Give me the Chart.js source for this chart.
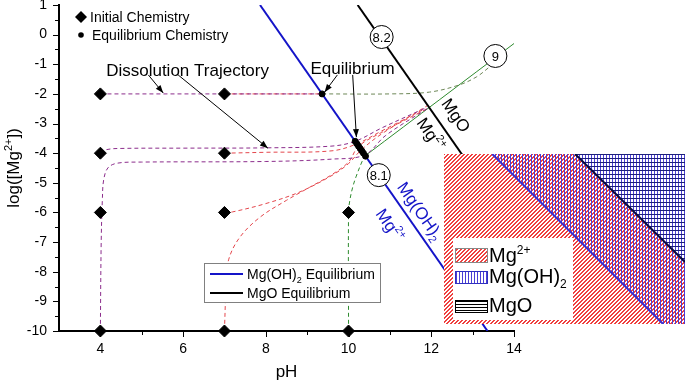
<!DOCTYPE html>
<html>
<head>
<meta charset="utf-8">
<script src="https://cdn.jsdelivr.net/npm/chart.js@4.4.1/dist/chart.umd.min.js"></script>
<style>
    html, body { margin: 0; padding: 0; background: #fff; }
    #wrap { position: relative; width: 685px; height: 380px; overflow: hidden; }
    #main { position: absolute; left: 0; top: 0; }
    #inset { position: absolute; left: 444px; top: 154px; background: #fff; }
</style>
</head>
<body>
<div id="wrap">
    <canvas id="main" width="685" height="380"></canvas>
    <canvas id="inset" width="241" height="170"></canvas>
</div>
<script>
const FONT = "'Liberation Sans', Arial, sans-serif";

// axes
const phTicks = [4, 6, 8, 10, 12, 14];
const phMinor = [5, 7, 9, 11, 13];
const logTicks = [1, 0, -1, -2, -3, -4, -5, -6, -7, -8, -9, -10];
const logMinor = [0.5, -0.5, -1.5, -2.5, -3.5, -4.5, -5.5, -6.5, -7.5, -8.5, -9.5];

// initial chemistry (diamonds)
const initialPH = [4, 7, 4, 7, 4, 7, 10, 4, 7, 10];
const initialLog = [-2, -2, -4, -4, -6, -6, -6, -10, -10, -10];

// equilibrium chemistry (dots on the Mg(OH)2 line)
const equilPH = [9.36, 10.16, 10.2, 10.24, 10.28, 10.32, 10.36, 10.41];
const equilLog = [-2, -3.6, -3.68, -3.76, -3.84, -3.92, -4.0, -4.1];

// equilibrium lines
const mgoh2PH = [7.86, 13.36];
const mgoh2Log = [1, -10];
const mgoPH = [10.22, 14];
const mgoLog = [1, -6.56];

// circled markers
const markPH = [10.8, 10.73, 13.55];
const markLog = [-0.08, -4.74, -0.72];
const markText = ['8.2', '8.1', '9'];

// dissolution trajectories
const t4m2PH = [4, 9.36];
const t4m2Log = [-2, -2];
const t7m2PH = [7, 9.36];
const t7m2Log = [-2, -2];
const tOverPH = [9.36, 11.0, 11.95, 12.67, 13.1, 13.4];
const tOverLog = [-2, -2.0, -1.94, -1.7, -1.42, -1.1];
const t4m4PH = [4, 4.15, 4.5, 6, 8, 9.6, 10.16, 10.8, 11.9];
const t4m4Log = [-4, -3.88, -3.84, -3.83, -3.82, -3.76, -3.6, -3.15, -2.45];
const t7m4PH = [7, 8, 9.6, 10.21, 10.8, 11.85];
const t7m4Log = [-4, -3.97, -3.92, -3.68, -3.25, -2.5];
const t4m10PH = [4, 4.02, 4.05, 4.08, 4.18, 4.4, 5, 8, 9.6, 10.39, 10.9, 11.9];
const t4m10Log = [-10, -7, -5.5, -4.9, -4.5, -4.34, -4.3, -4.28, -4.2, -4.06, -3.4, -2.5];
const t7m6PH = [7, 7.2, 8.0, 8.8, 9.6, 10.0, 10.3, 10.8, 11.9];
const t7m6Log = [-6, -5.98, -5.7, -5.32, -4.75, -4.35, -3.9, -3.35, -2.4];
const t7m10PH = [7, 7.04, 7.1, 7.37, 7.86, 8.5, 9.06, 9.6, 10.0, 10.24, 10.8, 11.9];
const t7m10Log = [-10, -8.5, -7.6, -6.84, -6.16, -5.59, -5.15, -4.72, -4.3, -3.77, -3.3, -2.5];
const t10m10PH = [10, 10, 10.03, 10.1, 10.18, 10.34, 10.41];
const t10m10Log = [-10, -6, -5.6, -5.15, -4.8, -4.24, -4.08];
const tGreenPH = [10.41, 14];
const tGreenLog = [-4.08, -0.3];

// inset phase diagram boundaries (fractions of the inset box)
const insetMg2X = [0, 0.544, 1];
const insetMg2Y = [1, 1, 0.365];
const insetOHX = [0.2, 0.909, 1];
const insetOHY = [1, 0, 0];
const insetMgOX = [0.544, 1];
const insetMgOY = [1, 0.365];

const pts = (xs, ys) => xs.map((v, i) => ({ x: v, y: ys[i] }));
const PURPLE = '#8b2c8b', RED = '#e4464c', GREEN = '#2e8b2e', OLIVE = '#6d8757';
const BLUE = '#1414c8';

const traj = (xs, ys, color, dash = [4, 3]) => ({
    data: pts(xs, ys), showLine: true, borderColor: color, borderWidth: 1,
    borderDash: dash, pointRadius: 0, tension: 0.35, fill: false,
});

// text with super/subscripts
function rich(ctx, x, y, parts, size) {
    let cx = x;
    parts.forEach((p) => {
        const s = p.sup || p.sub ? Math.round(size * 0.62) : size;
        ctx.font = `${s}px ${FONT}`;
        const dy = p.sup ? -size * 0.42 : p.sub ? size * 0.25 : 0;
        ctx.fillText(p.t, cx, y + dy);
        cx += ctx.measureText(p.t).width;
    });
    return cx - x;
}
function richWidth(ctx, parts, size) {
    let w = 0;
    parts.forEach((p) => {
        const s = p.sup || p.sub ? Math.round(size * 0.62) : size;
        ctx.font = `${s}px ${FONT}`;
        w += ctx.measureText(p.t).width;
    });
    return w;
}
function arrow(ctx, x1, y1, x2, y2) {
    ctx.beginPath(); ctx.moveTo(x1, y1); ctx.lineTo(x2, y2); ctx.stroke();
    const a = Math.atan2(y2 - y1, x2 - x1), L = 8, W = 3;
    ctx.beginPath();
    ctx.moveTo(x2, y2);
    ctx.lineTo(x2 - L * Math.cos(a) + W * Math.sin(a), y2 - L * Math.sin(a) - W * Math.cos(a));
    ctx.lineTo(x2 - L * Math.cos(a) - W * Math.sin(a), y2 - L * Math.sin(a) + W * Math.cos(a));
    ctx.closePath(); ctx.fill();
}

const tickMarks = {
    id: 'tickMarks',
    beforeDatasetsDraw(chart) {
        const { ctx, chartArea: a, scales: { x, y } } = chart;
        ctx.save();
        ctx.strokeStyle = '#000'; ctx.lineWidth = 1;
        ctx.beginPath();
        phTicks.forEach((v) => { const X = Math.round(x.getPixelForValue(v)) + 0.5; ctx.moveTo(X, a.bottom); ctx.lineTo(X, a.bottom + 6); });
        phMinor.forEach((v) => { const X = Math.round(x.getPixelForValue(v)) + 0.5; ctx.moveTo(X, a.bottom); ctx.lineTo(X, a.bottom + 4); });
        logTicks.forEach((v) => { const Y = Math.round(y.getPixelForValue(v)) + 0.5; ctx.moveTo(a.left, Y); ctx.lineTo(a.left - 6, Y); });
        logMinor.forEach((v) => { const Y = Math.round(y.getPixelForValue(v)) + 0.5; ctx.moveTo(a.left, Y); ctx.lineTo(a.left - 4, Y); });
        ctx.stroke();
        ctx.restore();
    },
};

const decor = {
    id: 'decor',
    afterDatasetsDraw(chart) {
        const { ctx, chartArea: a, scales: { x, y } } = chart;
        const X = (v) => x.getPixelForValue(v), Y = (v) => y.getPixelForValue(v);
        ctx.save();
        ctx.fillStyle = '#000'; ctx.strokeStyle = '#000';
        ctx.textBaseline = 'alphabetic'; ctx.textAlign = 'left';

        // axis titles
        ctx.font = `17px ${FONT}`;
        ctx.textAlign = 'center';
        ctx.fillText('pH', (a.left + a.right) / 2, 377);
        ctx.textAlign = 'left';
        const yt = [{ t: 'log([Mg' }, { t: '2+', sup: true }, { t: '])' }];
        ctx.save();
        ctx.translate(19, (a.top + a.bottom) / 2);
        ctx.rotate(-Math.PI / 2);
        rich(ctx, -richWidth(ctx, yt, 17) / 2, 0, yt, 17);
        ctx.restore();

        // top-left legend
        ctx.beginPath();
        const dx = a.left + 22, dy = a.top + 12;
        ctx.moveTo(dx - 6, dy); ctx.lineTo(dx, dy - 6); ctx.lineTo(dx + 6, dy); ctx.lineTo(dx, dy + 6); ctx.closePath(); ctx.fill();
        ctx.beginPath(); ctx.arc(dx, a.top + 30, 2.8, 0, Math.PI * 2); ctx.fill();
        ctx.font = `14px ${FONT}`;
        ctx.fillText('Initial Chemistry', a.left + 31, dy + 5);
        ctx.fillText('Equilibrium Chemistry', a.left + 33, a.top + 35);

        // annotations
        ctx.font = `17px ${FONT}`;
        ctx.fillText('Dissolution Trajectory', X(4.14), Y(-1.23) + 5);
        ctx.fillText('Equilibrium', X(9.08), Y(-1.16) + 5);
        ctx.lineWidth = 1;
        arrow(ctx, X(5.16), Y(-1.36), X(5.52), Y(-1.97));
        arrow(ctx, X(5.88), Y(-1.36), X(8.05), Y(-3.83));
        arrow(ctx, X(9.73), Y(-1.36), X(9.42), Y(-1.94));
        arrow(ctx, X(10.1), Y(-1.36), X(10.19), Y(-3.46));

        // circled marker labels
        ctx.font = `13px ${FONT}`;
        ctx.textAlign = 'center'; ctx.textBaseline = 'middle';
        markText.forEach((t, i) => ctx.fillText(t, X(markPH[i]), Y(markLog[i]) + 1));
        ctx.textAlign = 'left'; ctx.textBaseline = 'alphabetic';

        // labels along the equilibrium lines
        const ang = Math.atan2(Y(mgoh2Log[1]) - Y(mgoh2Log[0]), X(mgoh2PH[1]) - X(mgoh2PH[0]));
        const rot = (ph, lg, parts, color) => {
            ctx.save();
            ctx.fillStyle = color;
            ctx.translate(X(ph), Y(lg));
            ctx.rotate(ang);
            rich(ctx, -richWidth(ctx, parts, 17) / 2, 6, parts, 17);
            ctx.restore();
        };
        rot(12.6, -2.72, [{ t: 'MgO' }], '#000');
        rot(12.0, -3.36, [{ t: 'Mg' }, { t: '2+', sup: true }], '#000');
        rot(11.74, -5.95, [{ t: 'Mg(OH)' }, { t: '2', sub: true }], BLUE);
        rot(11.01, -6.43, [{ t: 'Mg' }, { t: '2+', sup: true }], BLUE);

        // boxed legend
        const bx = a.left + 145, by = a.top + 258;
        ctx.fillStyle = '#fff'; ctx.fillRect(bx, by, 176, 39);
        ctx.strokeStyle = '#808080'; ctx.strokeRect(bx + 0.5, by + 0.5, 176, 39);
        ctx.lineWidth = 2;
        ctx.strokeStyle = BLUE;
        ctx.beginPath(); ctx.moveTo(bx + 6, by + 11); ctx.lineTo(bx + 39, by + 11); ctx.stroke();
        ctx.strokeStyle = '#000';
        ctx.beginPath(); ctx.moveTo(bx + 6, by + 30); ctx.lineTo(bx + 39, by + 30); ctx.stroke();
        ctx.fillStyle = '#000';
        rich(ctx, bx + 43, by + 16, [{ t: 'Mg(OH)' }, { t: '2', sub: true }, { t: ' Equilibrium' }], 14);
        rich(ctx, bx + 43, by + 35, [{ t: 'MgO Equilibrium' }], 14);
        ctx.restore();
    },
};

new Chart(document.getElementById('main'), {
    type: 'scatter',
    data: {
        datasets: [
            { data: pts(initialPH, initialLog), pointStyle: 'rectRot', pointRadius: 6, pointBorderWidth: 1,
              backgroundColor: '#000', borderColor: '#000', clip: false },
            { data: pts(markPH, markLog), pointRadius: 11.5, pointBorderWidth: 1,
              backgroundColor: '#fff', borderColor: '#000', clip: false },
            { data: pts(equilPH, equilLog), pointRadius: 3, backgroundColor: '#000', borderColor: '#000' },
            { data: pts(mgoh2PH, mgoh2Log), showLine: true, borderColor: BLUE, borderWidth: 2, pointRadius: 0 },
            { data: pts(mgoPH, mgoLog), showLine: true, borderColor: '#000', borderWidth: 2, pointRadius: 0 },
            traj(t4m2PH, t4m2Log, PURPLE),
            traj(t7m2PH, t7m2Log, RED),
            traj(tOverPH, tOverLog, OLIVE),
            traj(t4m4PH, t4m4Log, PURPLE),
            traj(t7m4PH, t7m4Log, RED),
            traj(t4m10PH, t4m10Log, PURPLE),
            traj(t7m6PH, t7m6Log, RED),
            traj(t7m10PH, t7m10Log, RED),
            traj(t10m10PH, t10m10Log, GREEN),
            traj(tGreenPH, tGreenLog, GREEN, []),
        ],
    },
    options: {
        responsive: false,
        animation: false,
        devicePixelRatio: 1,
        layout: { autoPadding: false, padding: { left: 0, right: 171, top: 5, bottom: 0 } },
        plugins: { legend: { display: false }, tooltip: { enabled: false } },
        scales: {
            x: {
                type: 'linear', min: 3, max: 14,
                afterBuildTicks: (s) => { s.ticks = phTicks.map((v) => ({ value: v })); },
                afterFit: (s) => { s.height = 49; s.paddingLeft = 0; s.paddingRight = 0; },
                grid: { display: false, drawTicks: false },
                border: { display: true, color: '#000', width: 2 },
                ticks: { color: '#000', font: { size: 14, family: FONT }, padding: 10, maxRotation: 0, autoSkip: false },
            },
            y: {
                type: 'linear', min: -10, max: 1,
                afterBuildTicks: (s) => { s.ticks = logTicks.map((v) => ({ value: v })); },
                afterFit: (s) => { s.width = 59; s.paddingTop = 0; s.paddingBottom = 0; },
                grid: { display: false, drawTicks: false },
                border: { display: true, color: '#000', width: 2 },
                ticks: { color: '#000', font: { size: 14, family: FONT }, padding: 12, autoSkip: false },
            },
        },
    },
    plugins: [tickMarks, decor],
});

// ---- inset phase diagram ----
const makePattern = (w, h, draw) => {
    const c = document.createElement('canvas');
    c.width = w; c.height = h;
    const g = c.getContext('2d');
    draw(g);
    return g.createPattern(c, 'repeat');
};
// thick red "////" hatch
const redHatch = makePattern(4, 4, (g) => {
    g.fillStyle = '#f0403f';
    for (let i = 0; i < 4; i++) {
        g.fillRect(i, 3 - i, 1, 1);
        g.fillRect((i + 1) % 4, 3 - i, 1, 1);
    }
});
const vertHatch = makePattern(3, 1, (g) => { g.fillStyle = '#4a3ed6'; g.fillRect(0, 0, 1, 1); });
const horizHatch = makePattern(1, 4, (g) => { g.fillStyle = '#1c1f78'; g.fillRect(0, 0, 1, 1); });
const horizLegend = makePattern(1, 3, (g) => { g.fillStyle = '#000'; g.fillRect(0, 0, 1, 1); });

const insetLegend = {
    id: 'insetLegend',
    beforeDraw(chart) {
        const ctx = chart.ctx;
        ctx.save();
        ctx.fillStyle = '#fff';
        ctx.fillRect(0, 0, chart.width, chart.height);
        ctx.restore();
    },
    afterDraw(chart) {
        const ctx = chart.ctx;
        ctx.save();
        ctx.fillStyle = '#fff';
        ctx.fillRect(9, 84, 120, 82);
        const swatch = (x, y, w, h, pat, col) => {
            ctx.fillStyle = pat; ctx.fillRect(x, y, w, h);
            ctx.strokeStyle = col; ctx.lineWidth = 1; ctx.strokeRect(x + 0.5, y + 0.5, w, h);
        };
        swatch(11, 94, 32, 14, redHatch, '#888');
        swatch(11, 117, 32, 12, vertHatch, '#3030c0');
        swatch(11, 146, 32, 12, horizLegend, '#000');
        ctx.fillStyle = '#000';
        ctx.textBaseline = 'alphabetic';
        rich(ctx, 45, 108, [{ t: 'Mg' }, { t: '2+', sup: true }], 20);
        rich(ctx, 45, 129, [{ t: 'Mg(OH)' }, { t: '2', sub: true }], 20);
        rich(ctx, 45, 158, [{ t: 'MgO' }], 20);
        ctx.restore();
    },
};

new Chart(document.getElementById('inset'), {
    type: 'scatter',
    data: {
        datasets: [
            { data: pts(insetMgOX, insetMgOY), showLine: true, fill: 'end', backgroundColor: horizHatch,
              borderColor: '#0a0a40', borderWidth: 2, pointRadius: 0 },
            { data: pts(insetOHX, insetOHY), showLine: true, fill: 'end', backgroundColor: vertHatch,
              borderColor: '#3a2fd0', borderWidth: 2, pointRadius: 0,
              segment: { borderColor: (c) => (c.p0DataIndex === 1 ? 'rgba(0,0,0,0)' : undefined) } },
            { data: pts(insetMg2X, insetMg2Y), showLine: true, fill: 'start', backgroundColor: redHatch,
              borderColor: 'rgba(0,0,0,0)', borderWidth: 0, pointRadius: 0 },
        ],
    },
    options: {
        responsive: false,
        animation: false,
        devicePixelRatio: 1,
        layout: { autoPadding: false, padding: 0 },
        plugins: { legend: { display: false }, tooltip: { enabled: false } },
        scales: {
            x: { type: 'linear', display: false, min: 0, max: 1 },
            y: { type: 'linear', display: false, min: 0, max: 1 },
        },
    },
    plugins: [insetLegend],
});
</script>
</body>
</html>
